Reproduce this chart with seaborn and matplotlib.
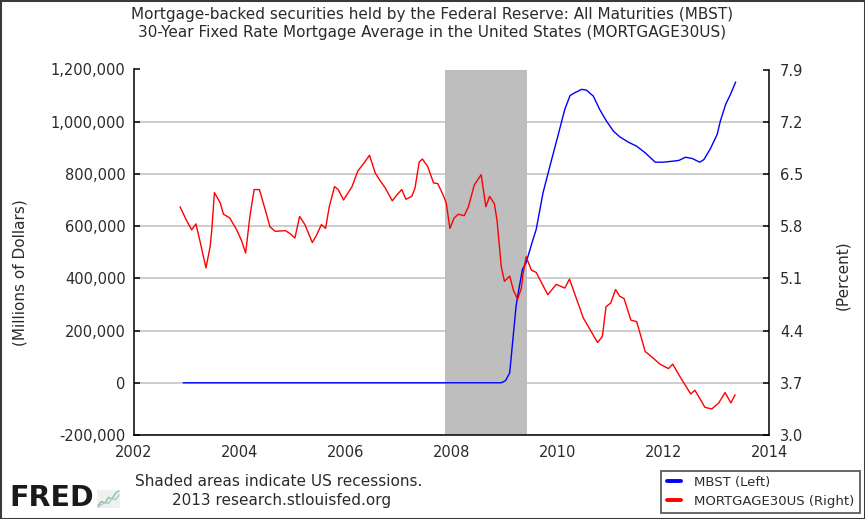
import matplotlib
matplotlib.use("Agg")
import matplotlib.pyplot as plt
from matplotlib.lines import Line2D
from matplotlib.patches import Rectangle
from matplotlib.ticker import FuncFormatter
import seaborn as sns

# MBST, millions of dollars (left axis)
mbst_years = [2002.93, 2005.0, 2007.5, 2008.94, 2009.02, 2009.10, 2009.16, 2009.22,
              2009.25, 2009.34, 2009.41, 2009.54, 2009.60, 2009.73, 2009.86, 2010.01,
              2010.14, 2010.24, 2010.33, 2010.46, 2010.55, 2010.68, 2010.80, 2010.93,
              2011.06, 2011.18, 2011.34, 2011.50, 2011.66, 2011.85, 2012.00, 2012.19,
              2012.30, 2012.42, 2012.55, 2012.69, 2012.77, 2012.89, 2013.02, 2013.08,
              2013.18, 2013.27, 2013.37]
mbst_values = [0, 0, 0, 0, 8000, 38000, 166000, 293000,
               332000, 434000, 460000, 549000, 587000, 728000, 830000, 945000,
               1047000, 1100000, 1111000, 1124000, 1121000, 1098000, 1047000, 1002000,
               964000, 942000, 922000, 906000, 881000, 845000, 845000, 849000,
               852000, 864000, 859000, 845000, 855000, 896000, 951000, 1002000,
               1066000, 1104000, 1152000]

# MORTGAGE30US, percent (right axis)
rate_years = [2002.87, 2002.99, 2003.09, 2003.17, 2003.25, 2003.36, 2003.44, 2003.47,
              2003.52, 2003.63, 2003.69, 2003.81, 2003.94, 2004.03, 2004.11, 2004.19,
              2004.27, 2004.37, 2004.48, 2004.57, 2004.67, 2004.86, 2004.95, 2005.04,
              2005.13, 2005.23, 2005.37, 2005.45, 2005.54, 2005.62, 2005.69, 2005.79,
              2005.86, 2005.96, 2006.12, 2006.23, 2006.34, 2006.45, 2006.56, 2006.66,
              2006.75, 2006.88, 2006.97, 2007.06, 2007.14, 2007.25, 2007.31, 2007.39,
              2007.45, 2007.55, 2007.66, 2007.74, 2007.84, 2007.90, 2007.97, 2008.05,
              2008.13, 2008.24, 2008.32, 2008.43, 2008.56, 2008.65, 2008.72, 2008.81,
              2008.86, 2008.94, 2009.00, 2009.10, 2009.17, 2009.25, 2009.32, 2009.35,
              2009.41, 2009.51, 2009.60, 2009.82, 2009.98, 2010.14, 2010.23, 2010.49,
              2010.76, 2010.85, 2010.92, 2011.01, 2011.10, 2011.18, 2011.26, 2011.39,
              2011.50, 2011.66, 2011.78, 2011.94, 2012.10, 2012.18, 2012.32, 2012.52,
              2012.60, 2012.79, 2012.92, 2013.05, 2013.17, 2013.28, 2013.36]
rate_values = [6.06, 5.88, 5.75, 5.83, 5.59, 5.24, 5.53, 5.75,
               6.25, 6.11, 5.96, 5.91, 5.75, 5.61, 5.44, 5.93,
               6.29, 6.29, 6.02, 5.79, 5.73, 5.74, 5.70, 5.64,
               5.93, 5.82, 5.58, 5.68, 5.82, 5.77, 6.06, 6.33,
               6.29, 6.15, 6.33, 6.54, 6.64, 6.75, 6.51, 6.40,
               6.31, 6.14, 6.22, 6.29, 6.16, 6.20, 6.31, 6.66,
               6.70, 6.60, 6.38, 6.37, 6.22, 6.11, 5.77, 5.91,
               5.96, 5.94, 6.06, 6.35, 6.49, 6.06, 6.20, 6.10,
               5.88, 5.26, 5.06, 5.13, 4.94, 4.82, 4.97, 5.15,
               5.39, 5.21, 5.18, 4.88, 5.02, 4.97, 5.09, 4.57,
               4.24, 4.32, 4.72, 4.77, 4.95, 4.86, 4.83, 4.54,
               4.52, 4.12, 4.05, 3.95, 3.89, 3.95, 3.78, 3.55,
               3.60, 3.37, 3.35, 3.43, 3.57, 3.43, 3.54]

recession = (2007.88, 2009.42)
year_ticks = [2002, 2004, 2006, 2008, 2010, 2012, 2014]
left_ticks = [-200000, 0, 200000, 400000, 600000, 800000, 1000000, 1200000]
right_ticks = [3.0, 3.7, 4.4, 5.1, 5.8, 6.5, 7.2, 7.9]

# little chart icon next to the FRED logo
icon_x = [0, 1, 2, 3, 4, 5, 6]
icon_a = [1, 2, 1.6, 3, 2.6, 4, 4.6]
icon_b = [0.6, 1.2, 1.8, 1.5, 2.8, 2.4, 3.6]

sns.set_style("white")
plt.rcParams["font.family"] = ["DejaVu Sans"]

txt = "#2b2b2b"
W, H = 865, 519
fig = plt.figure(figsize=(W / 100, H / 100), dpi=100)

# axes box in pixel terms: x 134..769, y 69.5..435
ax = fig.add_axes([134 / W, (H - 435) / H, 635 / W, 365.5 / H])
ax2 = ax.twinx()

ax.axvspan(recession[0], recession[1], color="#bebebe", lw=0, zorder=1)
for t in left_ticks:
    ax.axhline(t, color="#c0c0c0", lw=1.1, zorder=0.5)

sns.lineplot(x=mbst_years, y=mbst_values, ax=ax, color="#0000ff", lw=1.0,
             estimator=None, zorder=3)
sns.lineplot(x=rate_years, y=rate_values, ax=ax2, color="#ff0000", lw=1.0,
             estimator=None, zorder=3)

ax.set_xlim(2002, 2014)
ax.set_ylim(-200000, 1200000)
ax2.set_ylim(3.0, 7.9)
ax.set_xticks(year_ticks)
ax.set_yticks(left_ticks)
ax2.set_yticks(right_ticks)
ax.yaxis.set_major_formatter(FuncFormatter(lambda v, p: f"{int(v):,}"))
ax2.yaxis.set_major_formatter(FuncFormatter(lambda v, p: f"{v:.1f}"))

for a in (ax, ax2):
    for s in a.spines.values():
        s.set_color("black")
        s.set_linewidth(1.1)
    a.spines["top"].set_visible(False)
ax.spines["right"].set_visible(False)
ax2.spines["left"].set_visible(False)
ax2.spines["bottom"].set_visible(False)

ax.tick_params(axis="both", direction="in", length=4, width=1.1, colors="black",
               labelcolor=txt, labelsize=10.5, pad=6)
ax.tick_params(axis="x", pad=7)
ax2.tick_params(axis="y", direction="in", length=4, width=1.1, colors="black",
                labelcolor=txt, labelsize=10.5, pad=8)

ax.set_xlabel("")
ax.set_ylabel("(Millions of Dollars)", fontsize=11, color=txt)
ax.yaxis.set_label_coords(-0.168, 0.443)
ax2.set_ylabel("(Percent)", fontsize=11, color=txt)
ax2.yaxis.set_label_coords(1.104, 0.438)

fig.text(0.5, 1 - 14 / H, "Mortgage-backed securities held by the Federal Reserve: All Maturities (MBST)",
         ha="center", va="center", fontsize=11, color=txt)
fig.text(0.5, 1 - 33 / H, "30-Year Fixed Rate Mortgage Average in the United States (MORTGAGE30US)",
         ha="center", va="center", fontsize=11, color=txt)

handles = [Line2D([], [], color="#0000ff", lw=2.8),
           Line2D([], [], color="#ff0000", lw=2.8)]
leg = fig.legend(handles, ["MBST (Left)", "MORTGAGE30US (Right)"],
                 loc="lower right", bbox_to_anchor=(860 / W, 6 / H),
                 fontsize=9.5, frameon=True, fancybox=False, handlelength=1.1,
                 handletextpad=1.0, borderpad=0.4, labelspacing=0.45,
                 borderaxespad=0)
leg.get_frame().set_edgecolor("#333333")
leg.get_frame().set_linewidth(1.3)
for t in leg.get_texts():
    t.set_color(txt)

fig.text(135 / W, 1 - 481 / H, "Shaded areas indicate US recessions.",
         ha="left", va="center", fontsize=11, color=txt)
fig.text(172 / W, 1 - 500 / H, "2013 research.stlouisfed.org",
         ha="left", va="center", fontsize=11, color=txt)
fig.text(9 / W, 1 - 498 / H, "FRED", ha="left", va="center", fontsize=20.5,
         fontweight="bold", color="#1a1a1a")

icon = fig.add_axes([97 / W, (H - 508) / H, 23 / W, 18 / H])
icon.set_facecolor("#eef2ee")
icon.plot(icon_x, icon_a, color="#8fbf8f", lw=1.0)
icon.plot(icon_x, icon_b, color="#a9c4dd", lw=1.0)
icon.set_xticks([])
icon.set_yticks([])
for s in icon.spines.values():
    s.set_visible(False)

fig.patches.append(Rectangle((0, 0), 1, 1, transform=fig.transFigure, fill=False,
                             ec="#3a3a3a", lw=2.2))

fig.savefig("out.png", dpi=100)
